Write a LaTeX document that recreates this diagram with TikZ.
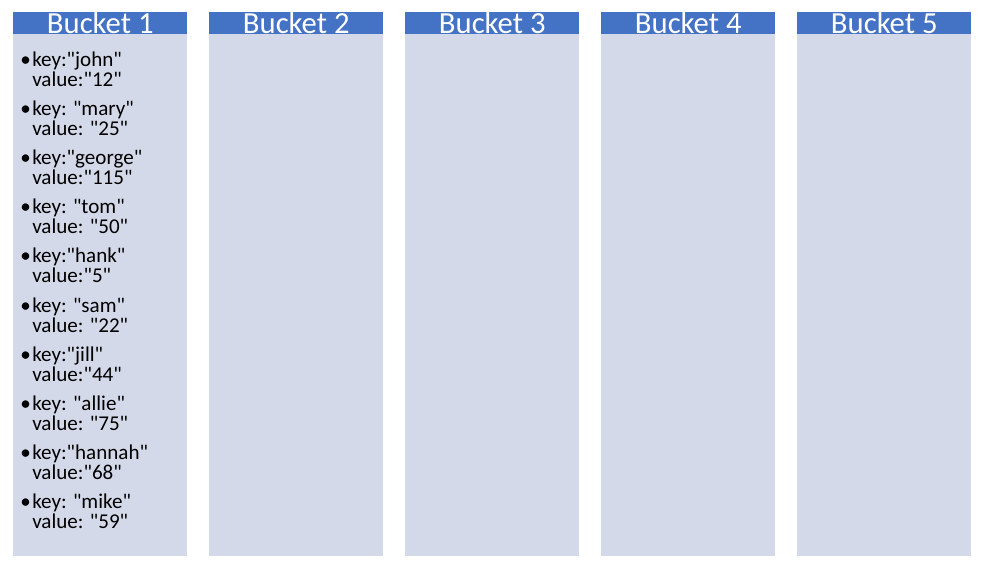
\documentclass[tikz,border=0pt]{standalone}
\usepackage{fontspec}
\setmainfont{Carlito}[Ligatures=TeXOff]
\usetikzlibrary{positioning}
\definecolor{headblue}{RGB}{68,114,196}
\definecolor{bodyblue}{RGB}{212,217,234}

\begin{document}
\begin{tikzpicture}[x=0.75pt,y=-0.75pt,
    bucket/.style={fill=bodyblue, inner sep=0, anchor=north west,
      minimum width=130.5pt, minimum height=391.5pt},
    bhead/.style={fill=headblue, text=white, inner sep=0, anchor=south west,
      minimum width=130.5pt, minimum height=16.5pt,
      font=\fontsize{23}{23}\selectfont},
    entry/.style={inner sep=0, anchor=base west, font=\fontsize{15.8}{15}\selectfont}]
  \useasboundingbox (0,0) rectangle (990,574);

  % the five buckets
  \foreach \i in {1,...,5}{
    \node[bucket] (body\i) at ({13+196*(\i-1)},34) {};
    \node[bhead] (head\i) at ([yshift=-0.3pt]body\i.north west) {Bucket \i};
  }

  % entries of bucket 1
  \foreach \kk/\vv [count=\n] in {
      {key:"john"}/{value:"12"},
      {key: "mary"}/{value: "25"},
      {key:"george"}/{value:"115"},
      {key: "tom"}/{value: "50"},
      {key:"hank"}/{value:"5"},
      {key: "sam"}/{value: "22"},
      {key:"jill"}/{value:"44"},
      {key: "allie"}/{value: "75"},
      {key:"hannah"}/{value:"68"},
      {key: "mike"}/{value: "59"}}{
    \node[entry] (key\n) at (32,{66.7+49.07*(\n-1)}) {\kk};
    \node[entry, anchor=base east] (dot\n) at ([xshift=-0.6pt]key\n.base west) {•};
    \node[entry] (val\n) at ([yshift=-15pt]key\n.base west) {\vv};
  }
\end{tikzpicture}
\end{document}
